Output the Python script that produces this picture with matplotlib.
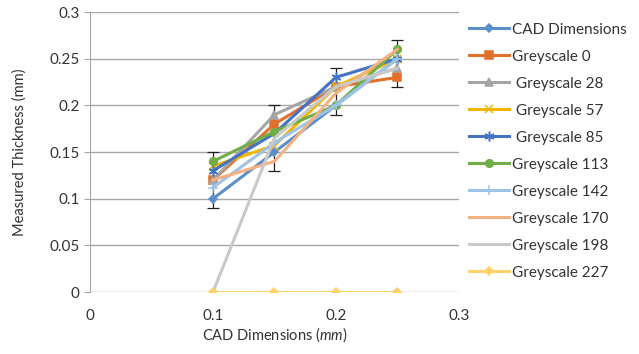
import matplotlib as mpl
import matplotlib.pyplot as plt
import numpy as np

cad = [0.1, 0.15, 0.2, 0.25]
series_names = ["CAD Dimensions", "Greyscale 0", " Greyscale 28", " Greyscale 57",
                " Greyscale 85", "Greyscale 113", "Greyscale 142", "Greyscale 170",
                "Greyscale 198", "Greyscale 227"]
cad_dims = [0.10, 0.15, 0.20, 0.25]
grey_0 = [0.12, 0.18, 0.22, 0.23]
grey_28 = [0.12, 0.19, 0.22, 0.24]
grey_57 = [0.135, 0.157, 0.22, 0.25]
grey_85 = [0.13, 0.17, 0.23, 0.25]
grey_113 = [0.14, 0.172, 0.20, 0.26]
grey_142 = [0.112, 0.16, 0.20, 0.25]
grey_170 = [0.12, 0.14, 0.213, 0.26]
grey_198 = [0.0, 0.165, 0.22, 0.24]
grey_227 = [0.0, 0.0, 0.0, 0.0]
err_low = [0.09, 0.13, 0.19, 0.22]
err_high = [0.15, 0.20, 0.24, 0.27]

mpl.rcParams["font.family"] = ["Lato", "DejaVu Sans"]
mpl.rcParams["font.size"] = 10
mpl.rcParams["mathtext.fontset"] = "custom"
mpl.rcParams["mathtext.it"] = "Lato:italic"

fig = plt.figure(figsize=(6.39, 3.54), dpi=100)
ax = fig.add_axes([0.141, 0.175, 0.577, 0.791])

styles = [
    (cad_dims, "#5B8FC9", "D", 4.5),
    (grey_0, "#E0702A", "s", 5.5),
    (grey_28, "#A5A5A5", "^", 5.5),
    (grey_57, "#F2B500", "x", 6),
    (grey_85, "#4472C4", (6, 2, 0), 7),
    (grey_113, "#70AD47", "o", 5.5),
    (grey_142, "#9DC3E6", "+", 7),
    (grey_170, "#F4B183", None, 0),
    (grey_198, "#C9C9C9", None, 0),
    (grey_227, "#FFD36B", "D", 4.5),
]

x = np.array(cad)
mid = (np.array(err_low) + np.array(err_high)) / 2
half = (np.array(err_high) - np.array(err_low)) / 2
ax.errorbar(x, mid, yerr=half, fmt="none", ecolor="#222222", elinewidth=0.9,
            capsize=4, capthick=0.9, zorder=2)

for (vals, col, mk, ms), name in zip(styles, series_names):
    ax.plot(x, vals, color=col, lw=2.2, marker=mk, markersize=ms,
            markeredgewidth=1.1, label=name, zorder=3)

ax.set_xlim(0, 0.3)
ax.set_ylim(0, 0.3)
ax.set_xticks([0, 0.1, 0.2, 0.3])
ax.set_xticklabels(["0", "0.1", "0.2", "0.3"])
ax.set_yticks([0, 0.05, 0.1, 0.15, 0.2, 0.25, 0.3])
ax.set_yticklabels(["0", "0.05", "0.1", "0.15", "0.2", "0.25", "0.3"])
ax.grid(axis="y", color="#A6A6A6", lw=1)
ax.set_axisbelow(True)
for s in ["top", "right", "bottom"]:
    ax.spines[s].set_visible(False)
ax.spines["left"].set_color("#A6A6A6")
ax.tick_params(axis="y", length=4, color="#A6A6A6", labelcolor="#333333", labelsize=11)
ax.tick_params(axis="x", length=0, pad=12, labelcolor="#333333", labelsize=11)

ax.set_xlabel("CAD Dimensions ($\\mathit{mm}$)", fontsize=10.5, color="#333333", labelpad=2)
ax.set_ylabel("Measured Thickness (mm)", fontsize=10.5, color="#333333", labelpad=16)

ax.legend(loc="upper left", bbox_to_anchor=(1.0, 1.0), frameon=False,
          fontsize=11, handlelength=2.6, labelspacing=0.85, handletextpad=0.15,
          borderaxespad=0.3, labelcolor="#333333")

fig.savefig("out.png", dpi=100)
